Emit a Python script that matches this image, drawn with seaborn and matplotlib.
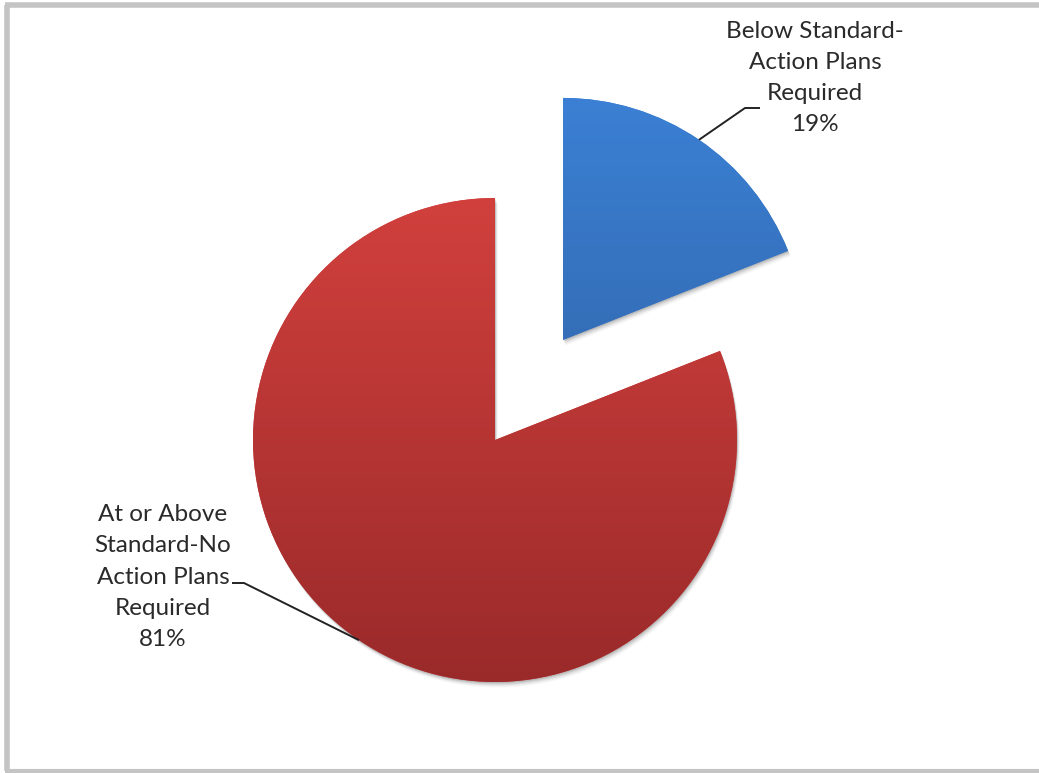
import numpy as np
import matplotlib
matplotlib.use("Agg")
import matplotlib.pyplot as plt
import seaborn as sns
from matplotlib.colors import LinearSegmentedColormap
from matplotlib.patches import Shadow

sns.set_theme(style="white")
plt.rcParams['font.family'] = ['Lato', 'DejaVu Sans']

# Data
categories = ["Below Standard-\nAction Plans\nRequired", "At or Above\nStandard-No\nAction Plans\nRequired"]
shares = [19, 81]
explode = [0.5, 0.0]
top_colors = ["#3b80d4", "#d1403d"]
bottom_colors = ["#2d5c9c", "#9a2a2a"]

W, H = 1039, 773
R_PX = 242          # pie radius in pixels
CX, CY = 495, 440   # pie centre in pixels (from top-left)


def px(x, y):
    """Pixel position (from the top-left) to data units, one unit = pie radius."""
    return (x - CX) / R_PX, (H - y - (H - CY)) / R_PX


fig = plt.figure(figsize=(W / 100, H / 100), dpi=100)
ax = fig.add_axes([0, 0, 1, 1])
x0, y0 = px(0, H)
x1, y1 = px(W, 0)

wedges, _ = ax.pie(shares, explode=explode, startangle=90, counterclock=False,
                   radius=1, wedgeprops=dict(linewidth=0, zorder=3))
ax.set_xlim(x0, x1)
ax.set_ylim(y0, y1)
ax.set_aspect("equal")
ax.axis("off")

# soft drop shadow below each wedge
u = 1 / R_PX
for w in wedges:
    for k, a in [(1, 0.10), (2, 0.08), (3, 0.06), (4, 0.04), (5, 0.03)]:
        sh = Shadow(w, 0.4 * k * u, -0.8 * k * u, facecolor="#000000", alpha=a,
                    linewidth=0, zorder=2)
        ax.add_patch(sh)

# vertical gradient fill clipped to each wedge
for w, c0, c1 in zip(wedges, top_colors, bottom_colors):
    cmap = LinearSegmentedColormap.from_list("g", [c1, c0])
    cx, cy = w.center
    grad = np.linspace(0, 1, 256).reshape(-1, 1)
    im = ax.imshow(grad, cmap=cmap, origin="lower", aspect="auto",
                   extent=[cx - 1, cx + 1, cy - 1, cy + 1], zorder=3.1)
    im.set_clip_path(w)
    w.set_facecolor(c0)
ax.set_xlim(x0, x1)
ax.set_ylim(y0, y1)

# labels with leader lines from the middle of each arc
label_pos = [px(815, 78), px(163, 577)]
elbows = [(px(745, 108), px(760, 108)), (px(244, 583), px(232, 583))]
for w, cat, s, (lx, ly), (e1, e2) in zip(wedges, categories, shares, label_pos, elbows):
    mid = np.deg2rad((w.theta1 + w.theta2) / 2)
    cx, cy = w.center
    sx, sy = cx + np.cos(mid), cy + np.sin(mid)
    ax.plot([sx, e1[0], e2[0]], [sy, e1[1], e2[1]], color="#222222", lw=1.4,
            solid_capstyle="butt", zorder=5)
    ax.text(lx, ly, f"{cat}\n{s}%", ha="center", va="center", multialignment="center",
            fontsize=17.5, color="#2a2a2a", linespacing=1.6, zorder=6)

# outer frame (left, top and bottom edges)
frame_kw = dict(color="#c4c4c4", solid_capstyle="butt", zorder=1, clip_on=False)
ax.plot(*zip(px(7, 5), px(7, 771)), lw=4, **frame_kw)
ax.plot(*zip(px(5, 5), px(W + 5, 5)), lw=4, **frame_kw)
ax.plot(*zip(px(5, 771), px(W + 5, 771)), lw=3, **frame_kw)

fig.savefig("out.png", dpi=100, facecolor="white")
